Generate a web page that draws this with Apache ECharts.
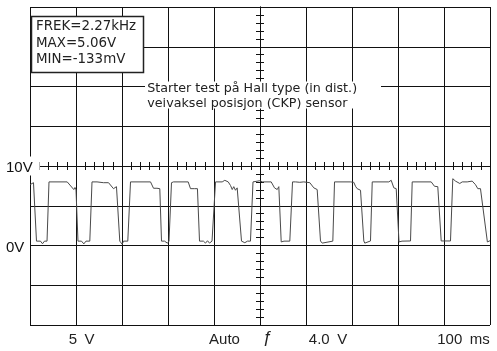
<!DOCTYPE html>
<html><head><meta charset="utf-8">
<script src="https://cdn.jsdelivr.net/npm/echarts@6/dist/echarts.min.js"></script>
<style>html,body{margin:0;padding:0;background:#fff}#c{width:497px;height:351px}</style>
</head><body><div id="c"></div>
<script>
// Waveform samples (time in ms, 100 ms/div; voltage in V, 5 V/div)
const timeMs = [0,3.3,7.6,9.8,14.1,22.8,27.2,31.5,37,41.3,
80.9,95.2,97.8,100,104.3,112,117,121.7,130,134.8,
145.7,149.6,159.8,170.7,175,181.5,188,190.9,195.2,200.4,203.3,212.6,218.5,
262,268.5,276,278.3,282.2,285.9,292.4,298.9,302.2,304.3,307.6,
312,343.9,348.9,358,361,364,368.5,377,381.5,385.9,390.2,395.7,398.3,403.3,
417.8,423.5,430.9,435.9,439.6,443,446.7,450.4,453.9,459.8,467,472.8,479.3,484.8,
499.6,505.4,524.3,531.5,537.4,540.9,543,546.1,548.2,552.2,564.8,570.7,
577.2,580.9,586.5,595.2,608.3,617,624.3,627.8,631.5,635.2,639.1,658.3,662,
696.7,700.4,703.9,707.6,711.3,714.8,718.5,720.7,725.7,727.8,730.4,740.2,744,
780,785.2,790.9,793.5,796.1,802.2,805.4,808.7,827.2,830.9,
872.2,875.7,879.3,883,886.5,889.6,893.9,914.1,919.1,
925,928.7,934.3,939.6,950.4,961.3,968.5,973.5,979.3,994.3,998,1000];
const volts = [7.65,7.4,7.9,7.8,0.55,0.55,0.22,0.55,0.55,8.0,
8.0,7.04,7.3,7.0,0.55,0.55,0.2,0.55,0.55,8.0,
8.0,7.8,7.9,7.9,7.65,7.15,7.4,7.3,0.55,0.16,0.55,0.55,8.0,
8.0,7.2,7.2,7.35,7.15,0.55,0.55,0.29,0.55,0.55,7.9,
8.0,8.0,7.15,7.15,7.35,7.15,0.55,0.55,0.3,0.6,0.3,0.55,0.55,8.0,
8.0,8.2,8.0,7.55,7.04,7.4,6.95,7.25,7.2,0.55,0.35,0.55,0.55,8.0,
8.15,8.0,8.0,7.25,7.04,7.4,7.2,0.45,0.3,0.55,0.55,8.0,
8.0,7.8,7.95,8.0,7.9,7.25,7.04,7.15,0.57,0.3,0.55,0.55,8.0,
8.0,7.75,7.95,7.45,7.15,7.4,6.95,7.15,0.57,0.3,0.55,0.57,8.0,
8.0,8.2,7.25,7.45,7.15,0.45,0.3,0.55,0.57,8.0,
8.0,7.8,7.45,7.25,7.4,7.15,0.57,0.57,8.4,
8.1,8.3,7.8,8.0,8.0,8.1,7.65,7.15,7.15,0.45,0.3,0.6];

const yTickValues = [0, 10];
const yTickLabels = ['0V', '10V'];
const infoLines = ['FREK=2.27kHz', 'MAX=5.06V', 'MIN=-133mV'];
const noteLines = ['Starter test på Hall type (in dist.)', 'veivaksel posisjon (CKP) sensor'];
const footerTexts = ['5\u2002V', 'Auto', '\u0192', '4.0\u2002V', '100\u2002ms'];

const chart = echarts.init(document.getElementById('c'), null, {renderer: 'canvas'});
const G = {left: 30, top: 7, width: 460, height: 318};
const grids = [0,1,2,3,4,5].map(() => Object.assign({}, G));
const BLK = '#111';
const hiddenAxis = (gi, min, max) => ({gridIndex: gi, type: 'value', min, max, show: false, axisLine: {onZero: false}});
const tickAxis = (gi, min, max, interval, inside) => ({
  gridIndex: gi, type: 'value', min, max, interval,
  axisLine: {show: true, onZero: true, lineStyle: {color: BLK, width: 1}},
  axisTick: {show: true, inside, length: 4, lineStyle: {color: BLK, width: 1}},
  axisLabel: {show: false}, splitLine: {show: false}
});

const data = timeMs.map((t, i) => [t, volts[i]]);
const F = "'Liberation Sans', Arial, sans-serif";
const D = "'DejaVu Sans', Verdana, sans-serif";

const footerX = [81.7, 224.5, 267, 328, 463.5];
const graphic = [
  {type: 'rect', z: 100, shape: {x: 31.5, y: 16.5, width: 112, height: 56}, style: {fill: '#fff', stroke: '#222', lineWidth: 1.5}},
  {type: 'rect', z: 100, shape: {x: 145, y: 81.5, width: 236, height: 27}, style: {fill: '#fff'}},
];
infoLines.forEach((s, i) => graphic.push({type: 'text', z: 101, style: {text: s, x: 36, y: 27 + i * 16.5, font: '13.4px ' + D, fill: '#222', align: 'left', verticalAlign: 'middle'}}));
noteLines.forEach((s, i) => graphic.push({type: 'text', z: 101, style: {text: s, x: 147.3, y: 88.5 + i * 14.8, font: '12.7px ' + D, fill: '#222', align: 'left', verticalAlign: 'middle'}}));
footerTexts.forEach((s, i) => graphic.push({type: 'text', z: 101, style: {text: s, x: footerX[i], y: i === 2 ? 338 : 340, font: (i === 2 ? 'italic 17px ' : '15px ') + F, fill: '#222', align: 'center', verticalAlign: 'middle'}}));

chart.setOption({
  animation: false,
  backgroundColor: '#fff',
  grid: grids,
  xAxis: [
    {gridIndex: 0, type: 'value', min: 0, max: 1000, interval: 100,
     axisLine: {show: false}, axisTick: {show: false}, axisLabel: {show: false},
     splitLine: {show: true, lineStyle: {color: BLK, width: 1}}},
    tickAxis(1, 0, 1000, 20, false),
    tickAxis(2, 0, 1000, 20, true),
    hiddenAxis(3, -500, 500),
    hiddenAxis(4, -500, 500),
    hiddenAxis(5, 0, 1000)
  ],
  yAxis: [
    {gridIndex: 0, type: 'value', min: -10, max: 30, interval: 5,
     axisLine: {show: false}, axisTick: {show: false}, axisLabel: {show: false},
     splitLine: {show: true, lineStyle: {color: BLK, width: 1}}},
    hiddenAxis(1, -20, 20),
    hiddenAxis(2, -20, 20),
    tickAxis(3, -20, 20, 1, false),
    tickAxis(4, -20, 20, 1, true),
    {gridIndex: 5, type: 'value', min: -10, max: 30, interval: 5, z: 50,
     axisLine: {show: false}, axisTick: {show: false}, splitLine: {show: false},
     axisLabel: {show: true, margin: 24, align: 'left',
       formatter: v => {
         const k = yTickValues.indexOf(v);
         if (k < 0) return '';
         return v === 0 ? '{p|' + yTickLabels[k] + '}' : '{w|' + yTickLabels[k] + '}';
       },
       rich: {
         w: {fontFamily: F, fontSize: 15, color: '#111', backgroundColor: '#fff', padding: [4, 7, 0, 0]},
         p: {fontFamily: F, fontSize: 15, color: '#111', padding: [4, 0, 0, 0]}
       }}}
  ],
  series: [{
    type: 'line', xAxisIndex: 0, yAxisIndex: 0, data,
    showSymbol: false, symbol: 'none', smooth: false,
    lineStyle: {color: '#4a4a4a', width: 1}, z: 3
  }],
  graphic
});
</script></body></html>
